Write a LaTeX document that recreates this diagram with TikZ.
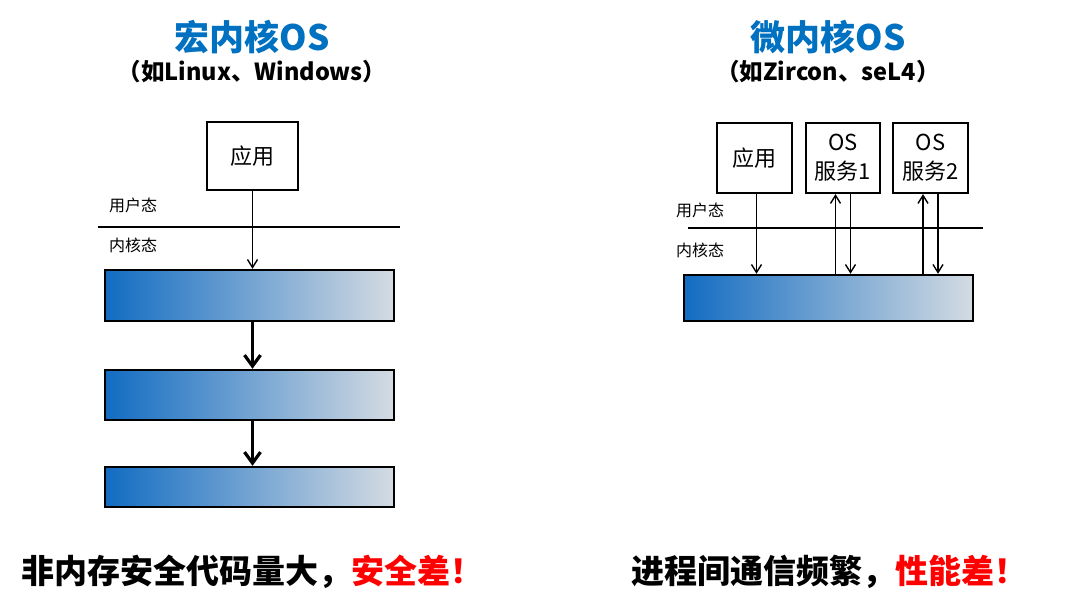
\documentclass[tikz,border=0pt]{standalone}
\usepackage{fontspec}
\setmainfont{Noto Sans CJK SC}
\usetikzlibrary{calc, arrows.meta}

\definecolor{titleblue}{RGB}{0,112,192}
\definecolor{barstart}{RGB}{18,108,194}
\definecolor{barend}{RGB}{212,219,226}
\definecolor{warnred}{RGB}{255,0,0}

\tikzset{
    userbox/.style={draw, line width=2.2pt, fill=white, inner sep=0pt, align=center,
        font=\fontsize{22}{29}\selectfont},
    kernbar/.style={draw, line width=2.4pt, inner sep=0pt, minimum width=289pt,
        left color=barstart, right color=barend},
    modelabel/.style={anchor=west, inner sep=0pt, font=\fontsize{16}{18}\selectfont},
    call/.style={line width=1.4pt, -{Straight Barb[length=8pt, width=10pt, line width=1.4pt]}},
    flow/.style={line width=3.2pt, -{Straight Barb[length=11pt, width=16pt, line width=3.2pt]}},
    headline/.style={text=titleblue, font=\fontsize{35}{40}\selectfont\bfseries},
    subline/.style={font=\fontsize{23.5}{26}\selectfont\bfseries},
    verdict/.style={anchor=west, inner sep=0pt, font=\fontsize{33}{36}\selectfont\bfseries}
}

\begin{document}
\begin{tikzpicture}[x=1pt, y=-1pt]
    \useasboundingbox (0,0) rectangle (1080,614);

    % Monolithic kernel (left)
    \node[headline] (mtitle) at (252,37) {宏内核OS};
    \node[subline] (msub) at (252,72) {（如Linux、Windows）};

    \node[userbox, minimum width=91pt, minimum height=68pt] (mapp) at (252.5,156) {应用};
    \node[modelabel] (muser) at (109,205) {用户态};
    \node[modelabel] (mkern) at (109,245) {内核态};
    \draw[line width=2.2pt] (98,227) -- (400,227);

    % Kernel layers
    \node[kernbar, minimum height=51pt] (mk1) at (249.5,295.5) {};
    \node[kernbar, minimum height=50pt] (mk2) at (249.5,395) {};
    \node[kernbar, minimum height=40pt] (mk3) at (249.5,487) {};

    \draw[call] (mapp.south) -- (mapp.south |- mk1.north);
    \draw[flow] (mapp.south |- mk1.south) -- (mapp.south |- mk2.north);
    \draw[flow] (mapp.south |- mk2.south) -- (mapp.south |- mk3.north);

    \node[verdict] (mnote) at (21,572) {非内存安全代码量大，\textcolor{warnred}{安全差！}};

    % Microkernel (right)
    \node[headline] (utitle) at (828,37) {微内核OS};
    \node[subline] (usub) at (828,72) {（如Zircon、seL4）};

    \node[userbox, minimum width=75pt, minimum height=70pt] (uapp) at (754.5,158) {应用};
    \node[userbox, minimum width=74pt, minimum height=70pt] (svc1) at (843,158) {OS\\服务1};
    \node[userbox, minimum width=75pt, minimum height=70pt] (svc2) at (930.5,158) {OS\\服务2};
    \node[modelabel] (uuser) at (676,210) {用户态};
    \node[modelabel] (ukern) at (676,250) {内核态};
    \draw[line width=2.2pt] (688,228) -- (983,228);

    \node[kernbar, minimum height=46pt] (uk) at (828.5,298) {};

    \draw[call] ([xshift=2pt]uapp.south) -- ([xshift=2pt]uapp.south |- uk.north);
    \foreach \svc in {svc1, svc2} {
        \draw[call] ([xshift=-7.5pt]\svc.south |- uk.north) -- ([xshift=-7.5pt]\svc.south);
        \draw[call] ([xshift=7.5pt]\svc.south) -- ([xshift=7.5pt]\svc.south |- uk.north);
    }

    \node[verdict] (unote) at (631,572) {进程间通信频繁，\textcolor{warnred}{性能差！}};
\end{tikzpicture}
\end{document}
